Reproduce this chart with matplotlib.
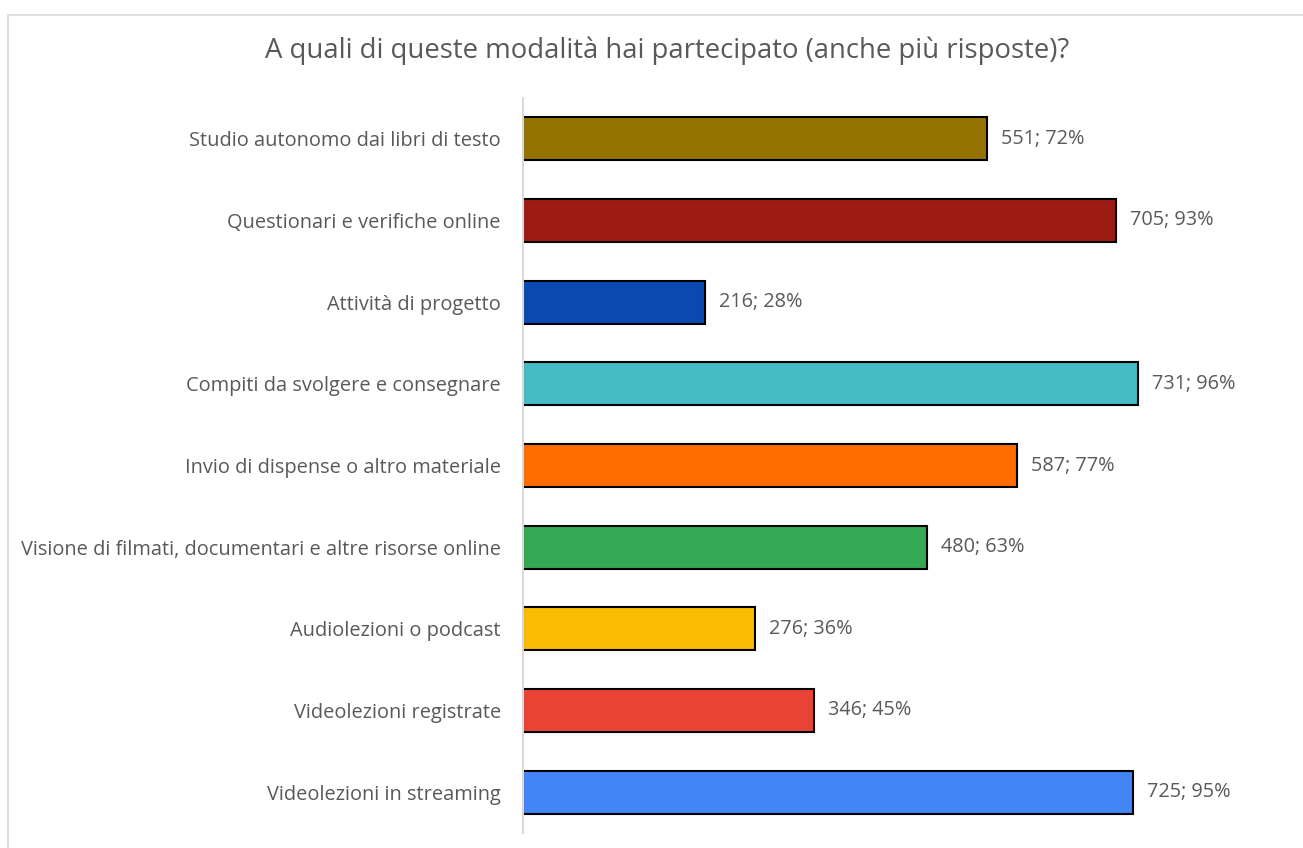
import matplotlib.pyplot as plt
from matplotlib.patches import Rectangle

plt.rcParams['font.family'] = ['Open Sans', 'DejaVu Sans']

labels = ["Videolezioni in streaming", "Videolezioni registrate", "Audiolezioni o podcast",
          "Visione di filmati, documentari e altre risorse online", "Invio di dispense o altro materiale",
          "Compiti da svolgere e consegnare", "Attività di progetto", "Questionari e verifiche online",
          "Studio autonomo dai libri di testo"]
counts = [725, 346, 276, 480, 587, 731, 216, 705, 551]
percents = [95, 45, 36, 63, 77, 96, 28, 93, 72]
colors = ["#4285F4", "#EA4335", "#F9BC00", "#34A853", "#FF6D00",
          "#45BBC6", "#0A4AB0", "#9C1B12", "#967300"]

fig = plt.figure(figsize=(13.03, 8.48), dpi=100)
fig.patches.append(Rectangle((8 / 1303, -0.1), 1.2, 1.1 - 15 / 848, transform=fig.transFigure,
                             fill=False, edgecolor="#D9D9D9", linewidth=1.2))
ax = fig.add_axes([523 / 1303, 15 / 848, 673 / 1303, 735 / 848])

y = range(len(labels))
ax.barh(y, counts, height=0.53, color=colors, edgecolor="black", linewidth=1.5)
for i in y:
    ax.text(counts[i] + 17, i, f"{counts[i]}; {percents[i]}%", va="center", ha="left",
            fontsize=14.3, color="#595959")

ax.set_xlim(0, 800)
ax.set_ylim(-0.5, len(labels) - 0.5)
ax.set_yticks(list(y))
ax.set_yticklabels(labels, fontsize=14.4, color="#595959")
ax.tick_params(axis="y", length=0, pad=16)
ax.set_xticks([])
for s in ["top", "right", "bottom"]:
    ax.spines[s].set_visible(False)
ax.spines["left"].set_color("#D9D9D9")
ax.spines["left"].set_linewidth(1.5)

fig.text(667 / 1303, 1 - 51 / 848, "A quali di queste modalità hai partecipato (anche più risposte)?",
         ha="center", va="center", fontsize=19.8, color="#595959")

fig.savefig("out.png", dpi=100)
